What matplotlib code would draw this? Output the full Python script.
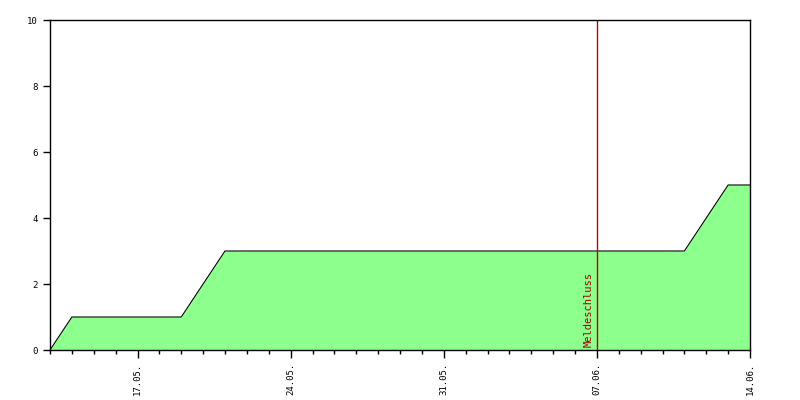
import matplotlib
matplotlib.use("Agg")
import matplotlib.pyplot as plt
import matplotlib.dates as mdates
import datetime as dt

# Meldungen je Tag (Stufen)
dates = ["2012-05-13", "2012-05-14", "2012-05-19", "2012-05-21",
         "2012-06-11", "2012-06-13", "2012-06-14"]
values = [0, 1, 1, 3, 3, 5, 5]
deadline = "2012-06-07"
deadline_label = "Meldeschluss"
x_start, x_end = "2012-05-13", "2012-06-14"
week_ticks = ["2012-05-17", "2012-05-24", "2012-05-31", "2012-06-07", "2012-06-14"]
y_ticks = [0, 2, 4, 6, 8, 10]

to_dt = lambda s: dt.datetime.strptime(s, "%Y-%m-%d")
x = [to_dt(d) for d in dates]

fig = plt.figure(figsize=(8, 4), dpi=100)
ax = fig.add_axes([0.0625, 0.125, 0.875, 0.825])

ax.fill_between(x, values, 0, color="#8cff8c", linewidth=0)
ax.plot(x, values, color="black", linewidth=0.8)
ax.axvline(to_dt(deadline), color="#c00000", linewidth=1)
ax.text(to_dt(deadline) - dt.timedelta(hours=4), 0.1, deadline_label,
        rotation=90, ha="right", va="bottom", color="#a00000",
        family="DejaVu Sans Mono", fontsize=7.5)

ax.set_xlim(to_dt(x_start), to_dt(x_end))
ax.set_ylim(0, 10)
ax.set_yticks(y_ticks)
ax.set_xticks([to_dt(d) for d in week_ticks])
ax.xaxis.set_major_formatter(mdates.DateFormatter("%d.%m."))
ax.xaxis.set_minor_locator(mdates.DayLocator())

ax.tick_params(axis="x", which="major", length=6, width=1, labelsize=6.5, rotation=90, pad=3)
ax.tick_params(axis="x", which="minor", length=3, width=1)
ax.tick_params(axis="y", length=5, width=1, labelsize=6.5, pad=4)
for lab in ax.get_xticklabels() + ax.get_yticklabels():
    lab.set_family("DejaVu Sans Mono")
for sp in ax.spines.values():
    sp.set_linewidth(1)

fig.savefig("out.png", dpi=100)
